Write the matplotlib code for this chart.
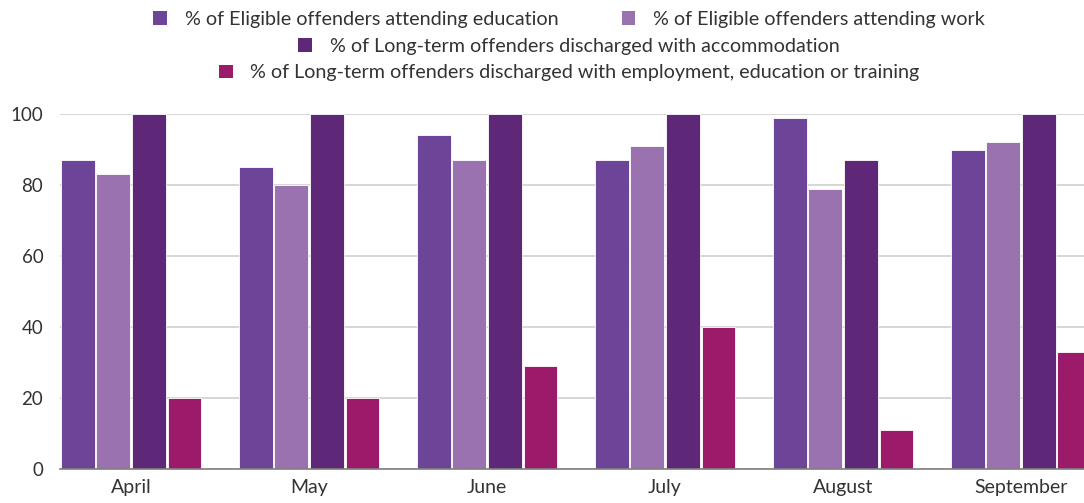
import matplotlib.pyplot as plt
import numpy as np
from matplotlib.patches import Patch

# Monthly offender outcome percentages
months = ["April", "May", "June", "July", "August", "September"]
series_labels = [
    "% of Eligible offenders attending education",
    "% of Eligible offenders attending work",
    "% of Long-term offenders discharged with accommodation",
    "% of Long-term offenders discharged with employment, education or training",
]
education = [87, 85, 94, 87, 99, 90]
work = [83, 80, 87, 91, 79, 92]
accommodation = [100, 100, 100, 100, 87, 100]
eet = [20, 20, 29, 40, 11, 33]
colors = ["#6c4599", "#9b72b0", "#5e2777", "#9b1b6a"]

plt.rcParams["font.family"] = ["Lato", "DejaVu Sans"]

fig = plt.figure(figsize=(10.84, 5.03), dpi=100)
ax = fig.add_axes([60 / 1084, 1 - 469.3 / 503, 1 - 60 / 1084, (469.3 - 114) / 503])

x = np.arange(len(months))
step = 0.2
width = 0.19
all_series = [education, work, accommodation, eet]
for k, (vals, col) in enumerate(zip(all_series, colors)):
    ax.bar(x + (k - 1.5) * step, vals, width, color=col, edgecolor="white",
           linewidth=0.6, zorder=3)

ax.set_ylim(0, 100)
ax.set_xlim(-0.4, 5.354)
ax.set_yticks(range(0, 101, 20))
ax.set_xticks(x)
ax.set_xticklabels(months)
ax.grid(axis="y", color="#d0d0d0", linewidth=1.2, zorder=0)
ax.set_axisbelow(True)
for s in ["left", "right", "top"]:
    ax.spines[s].set_visible(False)
ax.spines["bottom"].set_color("#7f7f7f")
ax.spines["bottom"].set_linewidth(1.2)
ax.spines["bottom"].set_zorder(4)
ax.tick_params(axis="y", length=0, pad=12, labelsize=13.5, labelcolor="#333333")
ax.tick_params(axis="x", length=0, pad=7, labelsize=14, labelcolor="#333333")

# legend in three centred rows (2, 1, 1 entries)
handles = [Patch(facecolor=c, label=l) for c, l in zip(colors, series_labels)]
rows = [(handles[:2], 0.962), (handles[2:3], 0.907), (handles[3:], 0.855)]
for hs, yy in rows:
    leg = fig.legend(handles=hs, loc="center", bbox_to_anchor=(0.525, yy),
                     ncol=len(hs), frameon=False, fontsize=14.2,
                     handlelength=0.7, handleheight=0.7, handletextpad=0.9,
                     columnspacing=3.2, labelcolor="#333333")

fig.savefig("out.png", dpi=100)
